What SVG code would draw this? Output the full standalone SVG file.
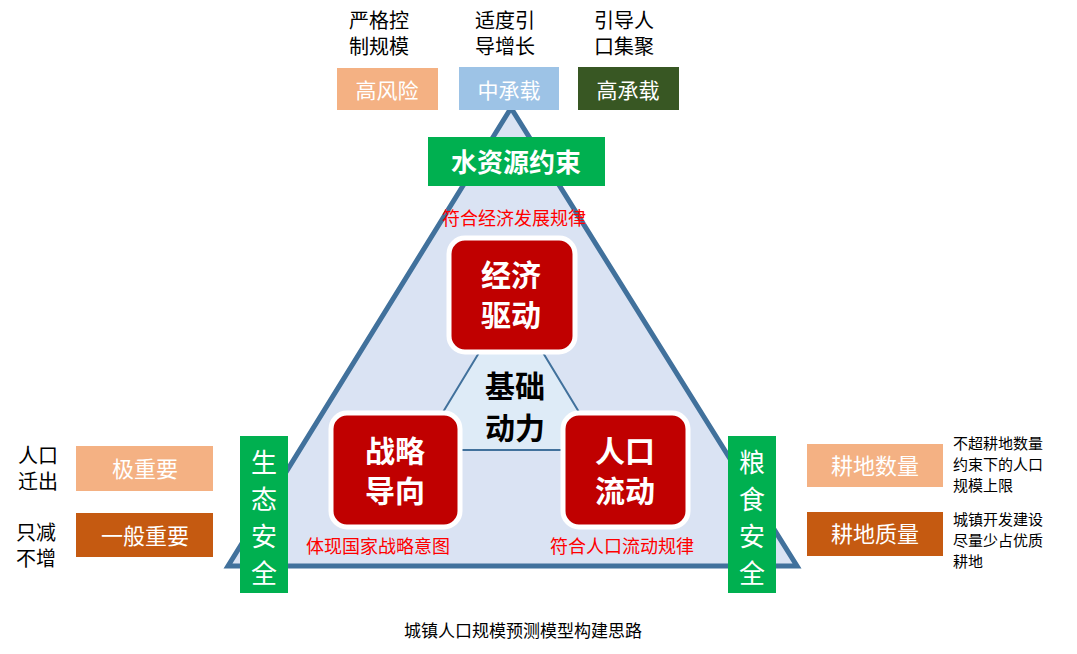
<svg xmlns="http://www.w3.org/2000/svg" width="1077" height="654" viewBox="0 0 1077 654">
<style>
text{font-family:"Noto Sans CJK SC","Liberation Sans",sans-serif;text-anchor:middle}
.w{fill:#fff}.k{fill:#000}.r{fill:#f00;font-size:18px}
.core{fill:#c00000;stroke:#fff;stroke-width:5}
.core-t{fill:#fff;font-size:30px;font-weight:bold}
.g{fill:#00b050}
.s{text-anchor:start}
</style>
<rect width="1077" height="654" fill="#fff"/>
<g id="connectors">
<polygon points="511,108 228,566 797,566" fill="#dae3f3" stroke="#41719c" stroke-width="5"/>
<polygon points="511,300 420,450 602,450" fill="#deebf7" stroke="#41719c" stroke-width="2"/>
</g>
<g id="top-labels">
<text x="379" y="28" class="k" font-size="20">严格控</text><text x="379" y="54" class="k" font-size="20">制规模</text>
<text x="505" y="28" class="k" font-size="20">适度引</text><text x="505" y="54" class="k" font-size="20">导增长</text>
<text x="624" y="28" class="k" font-size="20">引导人</text><text x="624" y="54" class="k" font-size="20">口集聚</text>
</g>
<g id="high-risk"><rect x="337" y="68" width="101" height="42" fill="#f4b183"/><text x="387" y="98" class="w" font-size="21">高风险</text></g>
<g id="mid"><rect x="459" y="67" width="100" height="43" fill="#9dc3e6"/><text x="509" y="98" class="w" font-size="21">中承载</text></g>
<g id="high"><rect x="578" y="67" width="101" height="43" fill="#385723"/><text x="628" y="98" class="w" font-size="21">高承载</text></g>
<g id="water"><rect x="428" y="137" width="177" height="49" class="g"/><text x="516" y="172" class="w" font-size="26" font-weight="bold">水资源约束</text></g>
<text x="514" y="225" class="r">符合经济发展规律</text>
<g id="econ"><rect x="449" y="238" width="126" height="114" rx="16" class="core"/><text x="511" y="286" class="core-t">经济</text><text x="511" y="326" class="core-t">驱动</text></g>
<g id="base"><text x="515" y="397" class="k" font-size="30" font-weight="bold">基础</text><text x="515" y="439" class="k" font-size="30" font-weight="bold">动力</text></g>
<g id="strat"><rect x="331" y="413" width="129" height="114" rx="16" class="core"/><text x="395" y="462" class="core-t">战略</text><text x="395" y="502" class="core-t">导向</text></g>
<g id="pop"><rect x="563" y="413" width="125" height="114" rx="16" class="core"/><text x="625" y="462" class="core-t">人口</text><text x="625" y="502" class="core-t">流动</text></g>
<text x="378" y="553" class="r">体现国家战略意图</text>
<text x="622" y="553" class="r">符合人口流动规律</text>
<g id="eco"><rect x="240" y="436" width="48" height="157" class="g"/><text x="264" y="472" class="w" font-size="26">生</text><text x="264" y="509" class="w" font-size="26">态</text><text x="264" y="546" class="w" font-size="26">安</text><text x="264" y="583" class="w" font-size="26">全</text></g>
<g id="food"><rect x="728" y="436" width="48" height="157" class="g"/><text x="752" y="472" class="w" font-size="26">粮</text><text x="752" y="509" class="w" font-size="26">食</text><text x="752" y="546" class="w" font-size="26">安</text><text x="752" y="583" class="w" font-size="26">全</text></g>
<g id="vimp"><rect x="76" y="446" width="137" height="45" fill="#f4b183"/><text x="145" y="477" class="w" font-size="22">极重要</text></g>
<g id="gimp"><rect x="76" y="513" width="137" height="44" fill="#c55a11"/><text x="145" y="544" class="w" font-size="22">一般重要</text></g>
<text x="38" y="463" class="k" font-size="20">人口</text><text x="38" y="489" class="k" font-size="20">迁出</text>
<text x="36" y="540" class="k" font-size="20">只减</text><text x="36" y="566" class="k" font-size="20">不增</text>
<g id="qty"><rect x="807" y="444" width="136" height="43" fill="#f4b183"/><text x="875" y="474" class="w" font-size="22">耕地数量</text></g>
<g id="qual"><rect x="807" y="512" width="136" height="44" fill="#c55a11"/><text x="875" y="542" class="w" font-size="22">耕地质量</text></g>
<g id="notes" font-size="15" class="k"><text x="953" y="449" class="s">不超耕地数量</text><text x="953" y="470" class="s">约束下的人口</text><text x="953" y="491" class="s">规模上限</text>
<text x="953" y="525" class="s">城镇开发建设</text><text x="953" y="546" class="s">尽量少占优质</text><text x="953" y="567" class="s">耕地</text></g>
<text x="523" y="637" class="k" font-size="17">城镇人口规模预测模型构建思路</text>
</svg>
